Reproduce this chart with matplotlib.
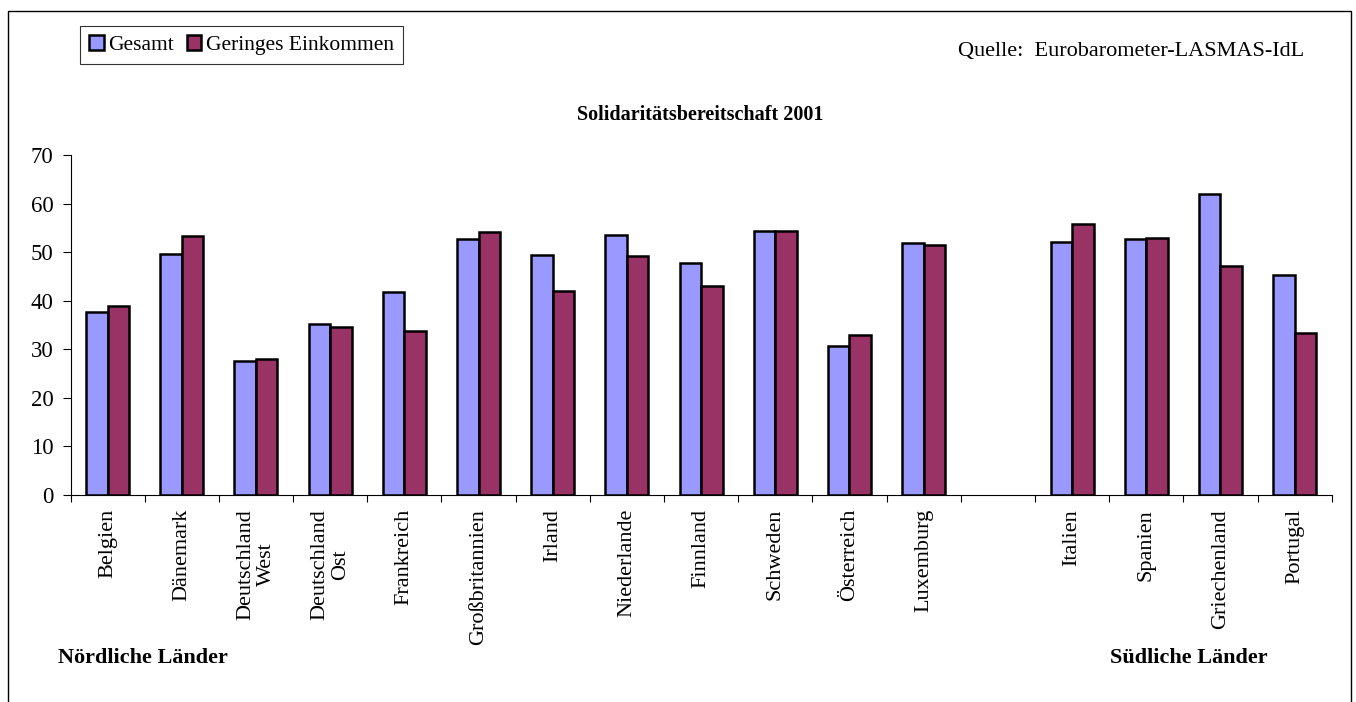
import numpy as np
import matplotlib
matplotlib.use("Agg")
import matplotlib.pyplot as plt
from matplotlib.patches import Rectangle

plt.rcParams['font.family'] = ['Liberation Serif', 'DejaVu Serif']

# Countries (an empty slot separates the northern and southern groups)
countries = ["Belgien", "Dänemark", "Deutschland\nWest", "Deutschland\nOst",
             "Frankreich", "Großbritannien", "Irland", "Niederlande", "Finnland",
             "Schweden", "Österreich", "Luxemburg", "",
             "Italien", "Spanien", "Griechenland", "Portugal"]
gesamt = [37.7, 49.6, 27.5, 35.3, 41.7, 52.8, 49.4, 53.5, 47.8, 54.4, 30.7, 51.8,
          np.nan, 52.0, 52.7, 61.9, 45.3]
geringes_einkommen = [38.9, 53.3, 28.1, 34.5, 33.8, 54.1, 42.0, 49.2, 43.0, 54.3,
                      32.9, 51.4, np.nan, 55.8, 53.0, 47.2, 33.4]
y_ticks = [0, 10, 20, 30, 40, 50, 60, 70]

W, H = 1356, 702
fig = plt.figure(figsize=(W / 100, H / 100), dpi=100)

# outer chart frame
fig.patches.append(Rectangle((8 / W, -0.05), (1351 - 8) / W, 1.05 - 11 / H,
                             transform=fig.transFigure, fill=False,
                             edgecolor="black", linewidth=1.0))

ax = fig.add_axes([70.5 / W, 1 - 495 / H, (1331.7 - 70.5) / W, (495 - 155) / H])

x = np.arange(len(countries))
bw = 0.29
ax.bar(x - bw / 2, gesamt, bw, color="#9999FF", edgecolor="black",
       linewidth=1.8, label="Gesamt")
ax.bar(x + bw / 2, geringes_einkommen, bw, color="#993366", edgecolor="black",
       linewidth=1.8, label="Geringes Einkommen")

ax.set_xlim(-0.5, len(countries) - 0.5)
ax.set_ylim(0, 70)
ax.set_yticks(y_ticks)
ax.tick_params(axis="y", labelsize=16.5, length=5.8, width=0.8,
               direction="out", pad=6.5)

# tick marks at category boundaries, labels at category centres
ax.set_xticks(np.arange(-0.5, len(countries), 1.0))
ax.set_xticklabels([])
ax.tick_params(axis="x", which="major", length=5, width=0.8, direction="out")
ax.set_xticks(x, minor=True)
ax.set_xticklabels(countries, minor=True, rotation=90, fontsize=16,
                   va="top", ha="center", multialignment="center",
                   linespacing=1.1)
ax.tick_params(axis="x", which="minor", length=0, pad=10)

for side in ("top", "right"):
    ax.spines[side].set_visible(False)
for side in ("left", "bottom"):
    ax.spines[side].set_linewidth(0.8)

leg = fig.legend(loc="upper left", bbox_to_anchor=(80 / W, 1 - 26 / H),
                 ncol=2, fontsize=15.5, frameon=True, fancybox=False,
                 edgecolor="black", handlelength=0.68, handleheight=0.7,
                 handletextpad=0.2, columnspacing=0.6, borderpad=0.42,
                 borderaxespad=0)
leg.get_frame().set_linewidth(0.8)

fig.text(1304 / W, 1 - 56 / H, "Quelle:  Eurobarometer-LASMAS-IdL",
         ha="right", va="baseline", fontsize=16)
fig.text(700 / W, 1 - 115 / H, "Solidaritätsbereitschaft 2001",
         ha="center", va="center", fontsize=14.5, fontweight="bold")
fig.text(58 / W, 1 - 658 / H, "Nördliche Länder", ha="left", va="center",
         fontsize=16, fontweight="bold")
fig.text(1110 / W, 1 - 658 / H, "Südliche Länder", ha="left", va="center",
         fontsize=16, fontweight="bold")

fig.savefig("out.png", dpi=100)
